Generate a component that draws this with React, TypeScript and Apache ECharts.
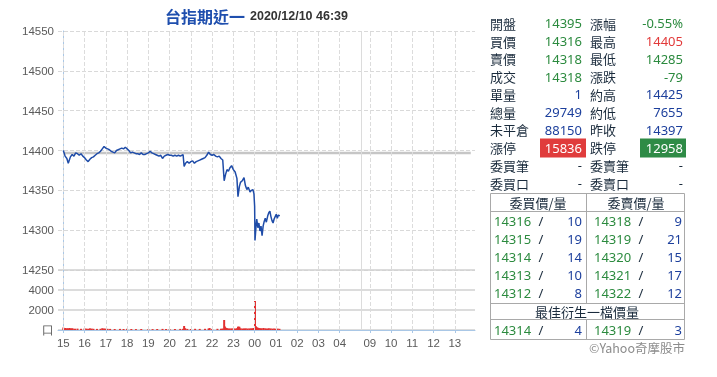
import React, { useEffect, useRef } from "react";
import * as echarts from "echarts";

// ---- data ----
const titleMain = "台指期近一";
const titleTime = "2020/12/10 46:39";

// minutes from 15:00 (night session), day session mapped after 05:00
const priceMinutes = [
  0, 5, 10, 14, 20, 25, 30, 35, 40, 45, 50, 55, 60, 65, 70, 75, 80, 85, 90, 95, 100, 105, 110, 115,
  120, 125, 130, 135, 140, 145, 150, 155, 160, 165, 170, 175, 180, 185, 190, 195, 200, 205, 210, 215,
  220, 225, 230, 235, 240, 245, 250, 255, 260, 265, 270, 275, 280, 285, 290, 295, 300, 305, 310, 315,
  320, 325, 330, 335, 338, 341, 345, 350, 355, 360, 365, 370, 375, 380, 385, 390, 395, 400, 405, 410,
  415, 420, 425, 430, 435, 440, 445, 450, 454, 458, 462, 466, 470, 475, 480, 485, 490, 493, 497, 500,
  505, 510, 514, 518, 522, 527, 531, 535, 538, 540, 541, 544, 546, 549, 552, 555, 558, 561, 564, 567,
  570, 573, 577, 580, 583, 586, 589, 592, 595, 598, 601, 604, 607, 611,
];
const priceValues = [
  14400, 14393, 14390, 14384, 14392, 14395, 14393, 14397, 14396, 14394, 14396, 14393, 14391, 14388, 14386, 14389, 14391, 14392, 14394, 14396, 14397, 14399, 14402, 14405,
  14403, 14402, 14401, 14399, 14398, 14397, 14400, 14401, 14402, 14403, 14402, 14404, 14402, 14400, 14397, 14398, 14397, 14396, 14396, 14395,
  14397, 14395, 14395, 14396, 14397, 14399, 14397, 14396, 14395, 14394, 14393, 14394, 14390, 14393, 14394, 14395, 14394, 14394, 14393, 14394,
  14393, 14394, 14393, 14394, 14395, 14380, 14384, 14386, 14384, 14386, 14387, 14384, 14386, 14387, 14388, 14389, 14390, 14391, 14394, 14398,
  14395, 14394, 14395, 14393, 14392, 14393, 14390, 14388, 14362, 14370, 14376, 14374, 14378, 14381, 14376, 14373, 14365, 14342, 14355, 14360,
  14362, 14366, 14356, 14351, 14354, 14348, 14350, 14351, 14346, 14330, 14287, 14305, 14314, 14303, 14309, 14299, 14305, 14293, 14305, 14311,
  14315, 14310, 14318, 14322, 14324, 14317, 14312, 14309, 14314, 14317, 14320, 14315, 14319, 14318,
];
const prevClose = 14397;
const prevCloseSpan = [0, 1150];

const volumeMinutes = [
  0, 3, 6, 9, 12, 15, 18, 21, 24, 27, 33, 40, 50, 60, 65, 70, 75, 80, 85, 95, 105, 110, 115, 120, 125, 132,
  145, 160, 170, 180, 192, 205, 220, 240, 252, 265, 280, 290, 300, 315, 330, 338, 341, 344, 350, 360, 372,
  385, 400, 410, 413, 420, 435, 445, 450, 454, 456, 459, 462, 466, 470, 475, 480, 485, 490, 493, 495, 497,
  500, 505, 510, 515, 520, 525, 530, 535, 538, 541, 543, 545, 548, 552, 556, 560, 565, 570, 575, 580, 585,
  590, 595, 600, 605, 610,
];
const volumeValues = [
  250, 180, 200, 150, 180, 160, 200, 140, 170, 150, 130, 140, 120, 160, 140, 120, 170, 140, 120, 110, 120, 180, 150, 140, 120, 110,
  100, 110, 100, 120, 100, 90, 100, 100, 90, 100, 110, 100, 90, 100, 110, 120, 400, 180, 110, 100, 120,
  110, 120, 150, 200, 110, 120, 130, 150, 1000, 350, 220, 180, 160, 150, 160, 170, 150, 180, 330, 330, 320,
  170, 150, 160, 170, 150, 160, 170, 180, 200, 2900, 400, 300, 250, 200, 180, 170, 200, 170, 150, 180, 160,
  140, 150, 130, 140, 120,
];

const xTickValues = [0, 60, 120, 180, 240, 300, 360, 420, 480, 540, 600, 660, 720, 780, 865, 925, 985, 1045, 1105];
const xTickLabels = ["15", "16", "17", "18", "19", "20", "21", "22", "23", "00", "01", "02", "03", "04", "09", "10", "11", "12", "13"];
const sessionBreak = 840;

const priceAxisMin = 14250;
const priceAxisMax = 14550;
const priceAxisStep = 50;
const volAxisMax = 6000;
const volAxisStep = 2000;

const quoteLeftLabels = ["開盤", "買價", "賣價", "成交", "單量", "總量", "未平倉", "漲停", "委買筆", "委買口"];
const quoteLeftValues = ["14395", "14316", "14318", "14318", "1", "29749", "88150", "15836", "-", "-"];
const quoteRightLabels = ["漲幅", "最高", "最低", "漲跌", "約高", "約低", "昨收", "跌停", "委賣筆", "委賣口"];
const quoteRightValues = ["-0.55%", "14405", "14285", "-79", "14425", "7655", "14397", "12958", "-", "-"];

const bidPrices = [14316, 14315, 14314, 14313, 14312];
const bidQty = [10, 19, 14, 10, 8];
const askPrices = [14318, 14319, 14320, 14321, 14322];
const askQty = [9, 21, 15, 17, 12];
const bestBid = [14314, 4];
const bestAsk = [14319, 3];

// ---- styles ----
const GREEN = "#2b8a3e";
const BLUE = "#1c3f9c";
const RED = "#e23a3a";
const DARK = "#1a2b3c";
const leftValueColors = [GREEN, GREEN, GREEN, GREEN, BLUE, BLUE, BLUE, "#ffffff", DARK, DARK];
const rightValueColors = [GREEN, RED, GREEN, GREEN, BLUE, BLUE, BLUE, "#ffffff", DARK, DARK];
const CJK = "'Noto Sans CJK TC', 'Noto Sans', sans-serif";
const LAT = "'Noto Sans', 'Liberation Sans', sans-serif";
const AX = "'Liberation Sans', Arial, sans-serif";

function buildPanel(): any[] {
  const els: any[] = [];
  const rowY = (i: number) => 23.3 + 17.75 * i;
  const txt = (x: number, y: number, text: string, fill: string, align = "left", font = CJK, size = 13) => ({
    type: "text",
    x,
    y,
    silent: true,
    style: { text, fill, font: `${size}px ${font}`, textAlign: align, textVerticalAlign: "middle" },
  });
  for (let i = 0; i < quoteLeftLabels.length; i++) {
    const y = rowY(i);
    if (i === 7) {
      els.push({ type: "rect", shape: { x: 540, y: y - 9, width: 46, height: 19 }, style: { fill: "#e03c3c" } });
      els.push({ type: "rect", shape: { x: 640, y: y - 9, width: 46, height: 19 }, style: { fill: "#2e8b46" } });
    }
    els.push(txt(490, y, quoteLeftLabels[i], DARK));
    els.push(txt(582, y, quoteLeftValues[i], leftValueColors[i], "right", LAT));
    els.push(txt(590, y, quoteRightLabels[i], DARK));
    els.push(txt(683, y, quoteRightValues[i], rightValueColors[i], "right", LAT));
  }
  // order book table
  const L = 490.5, R = 684.5, M = 586.5;
  const lineStyle = { stroke: "#a9a9a9", lineWidth: 1 };
  const hl = (y: number) => ({ type: "line", shape: { x1: L, y1: y, x2: R, y2: y }, style: lineStyle, silent: true });
  const vl = (x: number, y1: number, y2: number) => ({ type: "line", shape: { x1: x, y1, x2: x, y2 }, style: lineStyle, silent: true });
  els.push(hl(193.5), hl(211.5), hl(303.5), hl(319.5), hl(339.5));
  els.push(vl(L, 193.5, 339.5), vl(R, 193.5, 339.5), vl(M, 193.5, 303.5), vl(M, 319.5, 339.5));
  els.push(txt(538, 202.5, "委買價/量", DARK, "center"));
  els.push(txt(636, 202.5, "委賣價/量", DARK, "center"));
  for (let i = 0; i < bidPrices.length; i++) {
    const y = 220.7 + 18 * i;
    els.push(txt(494, y, String(bidPrices[i]), GREEN, "left", LAT));
    els.push(txt(541, y, "/", DARK, "center", LAT));
    els.push(txt(582, y, String(bidQty[i]), BLUE, "right", LAT));
    els.push(txt(594, y, String(askPrices[i]), GREEN, "left", LAT));
    els.push(txt(641, y, "/", DARK, "center", LAT));
    els.push(txt(682, y, String(askQty[i]), BLUE, "right", LAT));
  }
  els.push(txt(587, 311, "最佳衍生一檔價量", DARK, "center"));
  els.push(txt(494, 329.5, String(bestBid[0]), GREEN, "left", LAT));
  els.push(txt(541, 329.5, "/", DARK, "center", LAT));
  els.push(txt(582, 329.5, String(bestBid[1]), BLUE, "right", LAT));
  els.push(txt(594, 329.5, String(bestAsk[0]), GREEN, "left", LAT));
  els.push(txt(641, 329.5, "/", DARK, "center", LAT));
  els.push(txt(682, 329.5, String(bestAsk[1]), BLUE, "right", LAT));
  els.push(txt(685, 347, "©Yahoo奇摩股市", "#8c8c8c", "right", CJK, 12.5));
  return els;
}

export default function App() {
  const ref = useRef<HTMLDivElement>(null);
  useEffect(() => {
    if (!ref.current) return;
    const chart = echarts.init(ref.current, undefined, { renderer: "svg" });
    const xMin = -15;
    const xMax = 1162;
    const gridVLines = (color: string) =>
      xTickValues
        .map((v) => ({ xAxis: v, lineStyle: { type: "dashed", color, width: 1 } }))
        .concat([{ xAxis: sessionBreak, lineStyle: { type: "solid", color: "#dcdcdc", width: 1 } as any }]);
    const axisBlue = "#a9c7e6";
    const labelGray = "#5a5a5a";
    const option: any = {
      animation: false,
      title: {
        left: 160,
        top: 2,
        text: `{a|${titleMain}} {b|${titleTime}}`,
        textStyle: {
          rich: {
            a: { fontSize: 16, color: "#1f4fae", fontFamily: CJK },
            b: { fontSize: 12.5, fontWeight: "bold", color: "#333", fontFamily: AX },
          },
        },
      },
      grid: [
        { left: 58, top: 31, width: 417, height: 239 },
        { left: 58, top: 270, width: 417, height: 60 },
      ],
      xAxis: [
        { type: "value", gridIndex: 0, min: xMin, max: xMax, show: false, splitLine: { show: false } },
        {
          type: "value",
          gridIndex: 1,
          min: xMin,
          max: xMax,
          axisLine: { show: true, lineStyle: { color: axisBlue } },
          axisTick: { show: true, length: 3, lineStyle: { color: axisBlue }, customValues: xTickValues },
          axisLabel: {
            customValues: xTickValues,
            color: labelGray,
            fontSize: 11.5,
            fontFamily: AX,
            margin: 7,
            formatter: (v: number) => {
              const i = xTickValues.indexOf(v);
              return i >= 0 ? xTickLabels[i] : "";
            },
          },
          splitLine: { show: false },
        },
      ],
      yAxis: [
        {
          type: "value",
          gridIndex: 0,
          min: priceAxisMin,
          max: priceAxisMax,
          interval: priceAxisStep,
          axisLine: { show: true, lineStyle: { color: axisBlue } },
          axisTick: { show: false },
          axisLabel: { color: labelGray, fontSize: 11.5, fontFamily: AX, margin: 4, formatter: (v: number) => String(v) },
          splitLine: { show: true, lineStyle: { type: "dashed", color: "#d9d9d9" } },
        },
        {
          type: "value",
          gridIndex: 1,
          min: 0,
          max: volAxisMax,
          interval: volAxisStep,
          axisLine: { show: true, lineStyle: { color: axisBlue } },
          axisTick: { show: false },
          axisLabel: {
            color: labelGray,
            fontSize: 11.5,
            fontFamily: AX,
            margin: 4,
            formatter: (v: number) => (v === 0 ? "口" : v === volAxisMax ? "" : String(v)),
          },
          splitLine: { show: true, lineStyle: { type: "solid", color: "#d0d0d0", width: 1.5 } },
        },
      ],
      series: [
        {
          type: "line",
          xAxisIndex: 0,
          yAxisIndex: 0,
          data: prevCloseSpan.map((m) => [m, prevClose]),
          symbol: "none",
          silent: true,
          lineStyle: { color: "#c6c6c6", width: 2.5 },
          z: 2,
          markLine: {
            silent: true,
            symbol: "none",
            label: { show: false },
            data: gridVLines("#dcdcdc"),
          },
        },
        {
          type: "line",
          xAxisIndex: 0,
          yAxisIndex: 0,
          data: priceMinutes.map((m, i) => [m, priceValues[i]]),
          symbol: "none",
          lineStyle: { color: "#1f4ca8", width: 1.5 },
          z: 5,
        },
        {
          type: "bar",
          xAxisIndex: 1,
          yAxisIndex: 1,
          data: volumeMinutes.map((m, i) => [m, volumeValues[i]]),
          barWidth: 2,
          itemStyle: { color: "#e23030" },
          markLine: {
            silent: true,
            symbol: "none",
            label: { show: false },
            data: gridVLines("#dcdcdc"),
          },
        },
      ],
      graphic: buildPanel(),
    };
    chart.setOption(option);
    return () => chart.dispose();
  }, []);
  return <div ref={ref} style={{ position: "fixed", left: 0, top: 0, width: 717, height: 377 }} />;
}
